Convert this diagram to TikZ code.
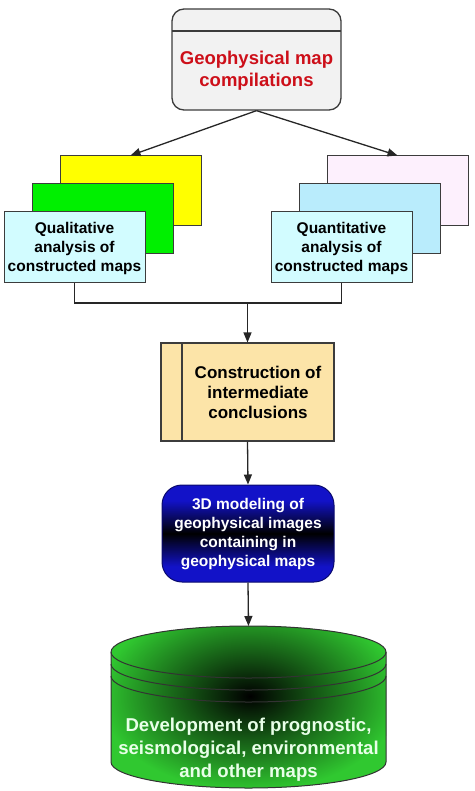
\documentclass[tikz,border=0pt]{standalone}
\usepackage{fontspec}
\setmainfont{Liberation Sans}
\usetikzlibrary{arrows.meta}
\definecolor{edge}{RGB}{60,60,60}
\definecolor{topfill}{RGB}{242,242,242}
\definecolor{titlered}{RGB}{205,15,25}
\definecolor{frontcyan}{RGB}{210,252,255}
\definecolor{midgreen}{RGB}{0,240,0}
\definecolor{backyellow}{RGB}{255,255,0}
\definecolor{midblue}{RGB}{185,236,252}
\definecolor{backpink}{RGB}{253,240,253}
\definecolor{orangefill}{RGB}{252,228,168}
\definecolor{boxblue}{RGB}{18,18,200}
\definecolor{cylgreen}{RGB}{48,200,48}
\definecolor{cyltext}{RGB}{232,255,232}
\pgfdeclareverticalshading{bluebandshade}{100bp}{color(0bp)=(boxblue); color(25bp)=(boxblue); color(33bp)=(boxblue); color(50bp)=(black); color(67bp)=(boxblue); color(75bp)=(boxblue); color(100bp)=(boxblue)}
\tikzset{
  card/.style={draw=edge, line width=1pt, minimum width=141pt, minimum height=70pt, inner sep=0pt},
  lbl/.style={align=center, inner sep=0pt, font=\bfseries\fontsize{15.5}{19}\selectfont},
  conn/.style={line width=1.3pt, draw=black!85},
  arr/.style={conn, -{Triangle[length=10pt,width=8pt]}},
}
\begin{document}
\begin{tikzpicture}[x=1pt,y=-1pt]
\useasboundingbox (0,0) rectangle (474,791);
% top box
\node[draw=edge, line width=1.3pt, fill=topfill, rounded corners=12pt, minimum width=169pt, minimum height=101pt, inner sep=0pt] (top) at (256.5,59.5) {};
\draw[edge, line width=1.3pt] (172,31) -- (341,31);
\node[lbl, text=titlered, font=\bfseries\fontsize{18.5}{22}\selectfont] (toptext) at (256.5,71) {Geophysical map\\compilations};
% left stack
\node[card, fill=backyellow] (lyellow) at (130.5,191) {};
\node[card, fill=midgreen] (lgreen) at (102.5,219) {};
\node[card, fill=frontcyan] (lfront) at (74.5,247) {};
\node[lbl] (ltext) at (74.5,248) {Qualitative\\analysis of\\constructed maps};
% right stack
\node[card, fill=backpink] (rpink) at (397.5,191) {};
\node[card, fill=midblue] (rblue) at (369.5,219) {};
\node[card, fill=frontcyan] (rfront) at (341.5,247) {};
\node[lbl] (rtext) at (341.5,248) {Quantitative\\analysis of\\constructed maps};
% arrows from top
\draw[arr] (top.south) -- (lyellow.north);
\draw[arr] (top.south) -- (rpink.north);
% join
\coordinate (join) at (247.5,303);
\draw[conn] (lfront.south) |- (join) -| (rfront.south);
% construction box
\node[draw=edge, line width=1.1pt, fill=orangefill, minimum width=173pt, minimum height=98pt, inner sep=0pt] (cons) at (247.5,392) {};
\draw[edge, line width=1.1pt] (182,343) -- (182,441);
\node[lbl, font=\bfseries\fontsize{17}{20}\selectfont] (constext) at (258,392) {Construction of\\intermediate\\conclusions};
\draw[arr] (join) -- (cons.north);
% 3D box
\node[draw=boxblue!55!black, line width=1pt, shading=bluebandshade, rounded corners=20pt, minimum width=172pt, minimum height=97pt, inner sep=0pt] (model) at (248,533.5) {};
\node[lbl, text=white] (modeltext) at (248,534) {3D modeling of\\geophysical images\\containing in\\geophysical maps};
\draw[arr] (cons.south) -- (model.north);
% cylinder
\coordinate (cyltop) at (248.5,626);
\begin{scope}
\clip (111,652) -- (111,762) arc[start angle=180,end angle=0,x radius=137.5,y radius=26] -- (386,652) arc[start angle=0,end angle=-180,x radius=137.5,y radius=26] -- cycle;
\fill[cylgreen] (100,600) rectangle (400,791);
\shade[inner color=black, outer color=cylgreen] (250,696) ellipse[x radius=150, y radius=95];
\end{scope}
\draw[black!80, line width=1pt] (111,652) -- (111,762) arc[start angle=180,end angle=0,x radius=137.5,y radius=26] -- (386,652) arc[start angle=0,end angle=-180,x radius=137.5,y radius=26] -- cycle;
\draw[black!80, line width=1pt] (111,652) arc[start angle=180,end angle=0,x radius=137.5,y radius=26];
\draw[black!80, line width=1pt] (111,664) arc[start angle=180,end angle=0,x radius=137.5,y radius=26];
\draw[black!80, line width=1pt] (111,676) arc[start angle=180,end angle=0,x radius=137.5,y radius=26];
\node[lbl, text=cyltext, font=\bfseries\fontsize{18.6}{23}\selectfont] (cyltext) at (248.5,750) {Development of prognostic,\\seismological, environmental\\and other maps};
\draw[arr] (model.south) -- (cyltop);
\end{tikzpicture}
\end{document}
